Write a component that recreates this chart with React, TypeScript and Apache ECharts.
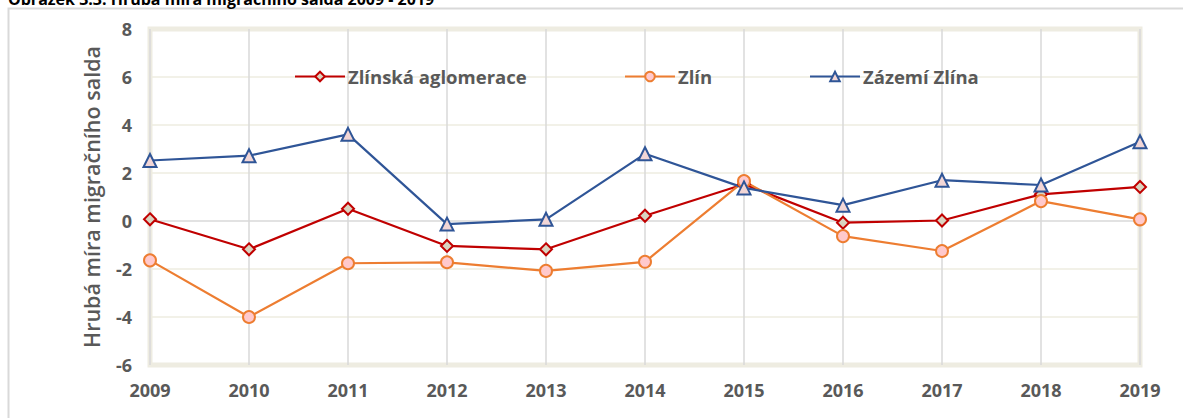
import React, { useEffect, useRef } from "react";
import * as echarts from "echarts";

const years = ["2009", "2010", "2011", "2012", "2013", "2014", "2015", "2016", "2017", "2018", "2019"];
const aglomerace = [0.07, -1.18, 0.51, -1.04, -1.18, 0.22, 1.53, -0.07, 0.02, 1.11, 1.42];
const zlin = [-1.64, -4.0, -1.76, -1.72, -2.08, -1.7, 1.66, -0.63, -1.25, 0.83, 0.07];
const zazemi = [2.52, 2.72, 3.61, -0.13, 0.07, 2.8, 1.38, 0.66, 1.7, 1.5, 3.3];
const seriesNames = ["Zlínská aglomerace", "Zlín", "Zázemí Zlína"];
const titleText = "Obrázek 3.3: Hrubá míra migračního salda 2009 - 2019";
const yAxisTitle = "Hrubá míra migračního salda";

export default function App() {
  const ref = useRef<HTMLDivElement>(null);
  useEffect(() => {
    if (!ref.current) return;
    const chart = echarts.init(ref.current, null, { renderer: "svg" });
    const font = "'Open Sans', 'Noto Sans', sans-serif";
    const mk = (name: string, data: number[], color: string, symbol: string, size: number, fill: string) => ({
      name,
      type: "line",
      data,
      symbol,
      symbolSize: size,
      showAllSymbol: true,
      lineStyle: { color, width: 2.2 },
      itemStyle: { color: fill, borderColor: color, borderWidth: 2 },
      emphasis: { disabled: true },
    });
    const legendLefts = [289, 619, 804];
    chart.setOption({
      animation: false,
      backgroundColor: "#ffffff",
      textStyle: { fontFamily: font },
      graphic: [
        {
          type: "rect",
          shape: { x: 8.5, y: 8.5, width: 1300, height: 600 },
          style: { fill: "#ffffff", stroke: "#D9D9D9", lineWidth: 2 },
          z: -10,
          silent: true,
        },
        {
          type: "text",
          x: 8,
          y: 7,
          style: {
            text: titleText,
            font: `bold 16px ${font}`,
            fill: "#000000",
            verticalAlign: "bottom",
            align: "left",
          },
          z: 10,
        },
      ],
      legend: seriesNames.map((n, i) => ({
        top: 62,
        left: legendLefts[i],
        itemWidth: 50,
        itemHeight: 12,
        textStyle: { fontFamily: font, fontSize: 18.5, fontWeight: "bold", color: "#595959", padding: [0, 0, 0, -2] },
        data: [n],
      })),
      grid: {
        left: 150,
        right: 43,
        top: 29,
        bottom: 53,
        show: true,
        borderColor: "#EEECE1",
        borderWidth: 5,
        containLabel: false,
      },
      xAxis: {
        type: "category",
        data: years,
        boundaryGap: false,
        axisLine: { show: false },
        axisTick: { show: false },
        axisLabel: { color: "#595959", fontSize: 18, fontWeight: "bold", fontFamily: font, margin: 16, interval: 0 },
        splitLine: { show: true, lineStyle: { color: "#D9D9D9", width: 1.5 } },
      },
      yAxis: {
        type: "value",
        min: -6,
        max: 8,
        interval: 2,
        name: yAxisTitle,
        nameLocation: "middle",
        nameGap: 48,
        nameRotate: 90,
        nameTextStyle: { color: "#595959", fontSize: 21.5, fontWeight: 600, fontFamily: font },
        axisLine: { show: false },
        axisTick: { show: false },
        axisLabel: { color: "#595959", fontSize: 18, fontWeight: "bold", fontFamily: font, margin: 18 },
        splitLine: {
          show: true,
          lineStyle: { color: ["#EEECE1", "#EEECE1", "#EEECE1", "#D9D9D9", "#EEECE1", "#EEECE1", "#EEECE1", "#EEECE1"], width: 1.5 },
        },
      },
      series: [
        mk(seriesNames[0], aglomerace, "#C00000", "diamond", 12, "#D9D4C1"),
        mk(seriesNames[1], zlin, "#ED7D31", "circle", 12, "#FFC9CC"),
        mk(seriesNames[2], zazemi, "#2F5597", "triangle", 13, "#F2D6D6"),
      ],
    });
    return () => chart.dispose();
  }, []);
  return <div ref={ref} style={{ position: "fixed", left: 0, top: 0, width: 1183, height: 418 }} />;
}
